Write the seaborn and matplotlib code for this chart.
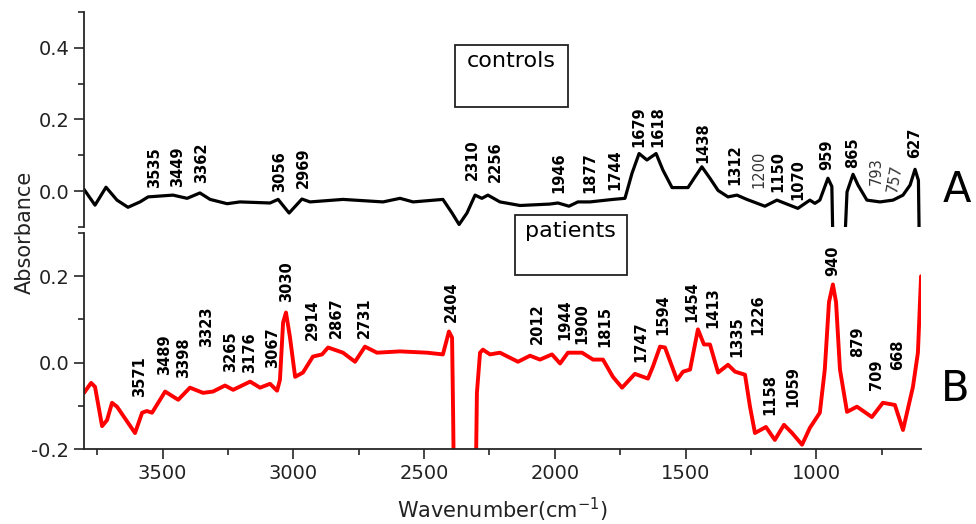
import matplotlib
matplotlib.use("Agg")
import numpy as np
import pandas as pd
import matplotlib.pyplot as plt
import seaborn as sns
from matplotlib.ticker import MultipleLocator
from matplotlib.patches import Rectangle

# ---------------- data ----------------
ctrl_wn = [3800, 3758, 3716, 3674, 3632, 3586, 3555, 3460, 3406, 3357, 3318, 3253, 3204,
           3089, 3058, 3016, 2967, 2936, 2810, 2657, 2592, 2542, 2428, 2393, 2366, 2336,
           2305, 2279, 2256, 2210, 2133, 2019, 1988, 1946, 1912, 1866, 1778, 1732, 1705,
           1678, 1648, 1613, 1587, 1552, 1491, 1464, 1438, 1407, 1376, 1338, 1304, 1266,
           1197, 1151, 1120, 1071, 1025, 1006, 987, 956, 941, 933, 901, 883, 860, 841,
           807, 757, 707, 669, 642, 623, 610, 604]
ctrl_abs = [0.005, -0.039, 0.011, -0.025, -0.045, -0.030, -0.016, -0.011, -0.020, -0.005,
            -0.023, -0.035, -0.030, -0.033, -0.023, -0.061, -0.022, -0.030, -0.023, -0.030,
            -0.020, -0.030, -0.023, -0.061, -0.093, -0.061, -0.011, -0.020, -0.011, -0.030,
            -0.040, -0.036, -0.033, -0.042, -0.030, -0.030, -0.023, -0.020, 0.050, 0.105,
            0.087, 0.105, 0.059, 0.010, 0.010, 0.040, 0.068, 0.036, 0.002, -0.016, -0.011,
            -0.023, -0.042, -0.025, -0.034, -0.048, -0.025, -0.034, -0.025, 0.036, 0.013,
            -0.300, -0.300, -0.002, 0.047, 0.017, -0.025, -0.030, -0.025, -0.011, 0.017,
            0.061, 0.030, -0.300]

pat_wn = [3800, 3773, 3758, 3731, 3712, 3693, 3674, 3605, 3578, 3560, 3540, 3490, 3440,
          3395, 3345, 3307, 3261, 3230, 3165, 3127, 3089, 3062, 3051, 3039, 3028, 3013,
          2993, 2963, 2925, 2890, 2867, 2810, 2764, 2726, 2680, 2592, 2489, 2428, 2405,
          2393, 2389, 2383, 2306, 2298, 2286, 2275, 2248, 2210, 2141, 2095, 2057, 2011,
          1980, 1950, 1896, 1854, 1816, 1778, 1743, 1694, 1644, 1625, 1598, 1579, 1533,
          1510, 1483, 1453, 1430, 1407, 1376, 1338, 1311, 1273, 1254, 1235, 1193, 1159,
          1124, 1093, 1055, 1025, 987, 968, 952, 937, 925, 910, 883, 845, 788, 746, 700,
          669, 631, 612, 600]
pat_abs = [-0.070, -0.047, -0.056, -0.147, -0.133, -0.093, -0.102, -0.163, -0.116, -0.112,
           -0.116, -0.067, -0.086, -0.058, -0.070, -0.067, -0.053, -0.063, -0.044, -0.058,
           -0.049, -0.065, -0.040, 0.093, 0.116, 0.060, -0.033, -0.023, 0.014, 0.019, 0.035,
           0.023, 0.002, 0.037, 0.023, 0.026, 0.023, 0.019, 0.072, 0.058, -0.116, -0.450,
           -0.450, -0.070, 0.023, 0.030, 0.019, 0.023, 0.002, 0.016, 0.007, 0.019, -0.002,
           0.023, 0.023, 0.007, 0.007, -0.033, -0.058, -0.026, -0.037, -0.009, 0.037, 0.035,
           -0.040, -0.021, -0.016, 0.077, 0.042, 0.042, -0.023, -0.005, -0.021, -0.028,
           -0.102, -0.163, -0.149, -0.179, -0.144, -0.163, -0.190, -0.151, -0.116, -0.016,
           0.140, 0.181, 0.140, -0.016, -0.114, -0.102, -0.126, -0.093, -0.098, -0.156,
           -0.056, 0.023, 0.200]

ctrl_peaks = ["3535", "3449", "3362", "3056", "2969", "2310", "2256", "1946", "1877",
              "1744", "1679", "1618", "1438", "1312", "1200", "1150", "1070", "959", "865",
              "793", "757", "627"]
pat_peaks = ["3571", "3489", "3398", "3323", "3265", "3176", "3067", "3030", "2914", "2867",
             "2731", "2404", "2012", "1944", "1900", "1815", "1747", "1594", "1454", "1413",
             "1335", "1226", "1158", "1059", "940", "879", "709", "668"]

x_ticks = [3500, 3000, 2500, 2000, 1500, 1000]

# ---------------- layout (label anchor positions, data coords) ----------------
ctrl_lab_pos = [(3529, 0.008), (3444, 0.011), (3349, 0.022), (3051, -0.003), (2963, 0.008),
                (2317, 0.030), (2229, 0.025), (1984, -0.006), (1866, -0.006), (1770, 0.003),
                (1678, 0.123), (1606, 0.123), (1434, 0.078), (1311, 0.017), (1220, 0.008),
                (1147, -0.003), (1071, -0.025), (960, 0.059), (860, 0.064), (772, 0.017),
                (700, -0.006), (623, 0.092)]
ctrl_thin = {"1200", "793", "757"}
pat_lab_pos = [(3586, -0.079), (3494, -0.028), (3418, -0.035), (3330, 0.037), (3238, -0.021),
               (3169, -0.023), (3081, -0.012), (3024, 0.140), (2928, 0.053), (2837, 0.058),
               (2730, 0.058), (2397, 0.095), (2065, 0.042), (1961, 0.053), (1896, 0.042),
               (1808, 0.035), (1671, 0.002), (1587, 0.065), (1476, 0.095), (1396, 0.081),
               (1304, 0.014), (1224, 0.065), (1178, -0.121), (1090, -0.102), (937, 0.200),
               (841, 0.014), (769, -0.063), (689, -0.016)]

ctrl_df = pd.DataFrame({"wn": ctrl_wn, "abs": ctrl_abs})
pat_df = pd.DataFrame({"wn": pat_wn, "abs": pat_abs})

sns.set_style("ticks")
plt.rcParams['font.family'] = ['DejaVu Sans']

fig = plt.figure(figsize=(9.76, 5.24), dpi=100)
ax_t = fig.add_axes([0.0861, 0.5668, 0.8576, 0.4103])
ax_b = fig.add_axes([0.0861, 0.1431, 0.8576, 0.4122])

sns.lineplot(data=ctrl_df, x="wn", y="abs", color="black", lw=2.3, ax=ax_t,
             estimator=None, sort=False)
sns.lineplot(data=pat_df, x="wn", y="abs", color="#ff0000", lw=2.8, ax=ax_b,
             estimator=None, sort=False)

for ax in (ax_t, ax_b):
    ax.set_xlim(3800, 600)
    ax.set_xlabel("")
    ax.set_ylabel("")
    for s in ("top", "right"):
        ax.spines[s].set_visible(False)
    ax.spines["left"].set_linewidth(1.3)
    ax.spines["bottom"].set_linewidth(1.3)
    ax.yaxis.set_major_locator(MultipleLocator(0.2))
    ax.yaxis.set_minor_locator(MultipleLocator(0.1))
    ax.tick_params(axis="both", which="major", length=7, width=1.2, labelsize=14,
                   labelcolor="#222222", direction="out")
    ax.tick_params(axis="both", which="minor", length=4, width=1.2, direction="out")

ax_t.set_ylim(-0.1, 0.5)
ax_t.spines["bottom"].set_visible(False)
ax_t.set_xticks([])
ax_t.xaxis.set_minor_locator(plt.NullLocator())
ax_t.set_yticks([0.0, 0.2, 0.4])
ax_t.set_yticklabels(["0.0", "0.2", "0.4"])

ax_b.set_ylim(-0.2, 0.3)
ax_b.set_yticks([-0.2, 0.0, 0.2])
ax_b.set_yticklabels(["-0.2", "0.0", "0.2"])
ax_b.set_xticks(x_ticks)
ax_b.set_xticklabels([str(t) for t in x_ticks])
ax_b.xaxis.set_minor_locator(MultipleLocator(250))

# peak labels
for lab, (x, y) in zip(ctrl_peaks, ctrl_lab_pos):
    thin = lab in ctrl_thin
    ax_t.text(x, y, lab, rotation=80 if lab == "757" else 90, ha="center", va="bottom",
              fontsize=10.5, fontweight="normal" if thin else "bold",
              color="#333333" if thin else "black", clip_on=False)
for lab, (x, y) in zip(pat_peaks, pat_lab_pos):
    ax_b.text(x, y, lab, rotation=90, ha="center", va="bottom", fontsize=10.5,
              fontweight="bold", color="black", clip_on=False)

# boxed labels
fig.add_artist(Rectangle((0.4662, 0.7958), 0.1158, 0.1183, transform=fig.transFigure,
                         fill=False, edgecolor="#222222", lw=1.3))
fig.text(0.5241, 0.8830, "controls", ha="center", va="center", fontsize=16, color="black")
fig.add_artist(Rectangle((0.5277, 0.4752), 0.1148, 0.1145, transform=fig.transFigure,
                         fill=False, edgecolor="#222222", lw=1.3))
fig.text(0.5840, 0.5600, "patients", ha="center", va="center", fontsize=16, color="black")

fig.text(0.9805, 0.637, "A", ha="center", va="center", fontsize=30, color="black")
fig.text(0.9785, 0.2576, "B", ha="center", va="center", fontsize=30, color="black")

fig.text(0.0256, 0.557, "Absorbance", rotation=90, ha="center", va="center",
         fontsize=15, color="#222222")
fig.text(0.5146, 0.0267, "Wavenumber(cm$^{-1}$)", ha="center", va="center",
         fontsize=15, color="#222222")

fig.savefig("out.png", dpi=100)
